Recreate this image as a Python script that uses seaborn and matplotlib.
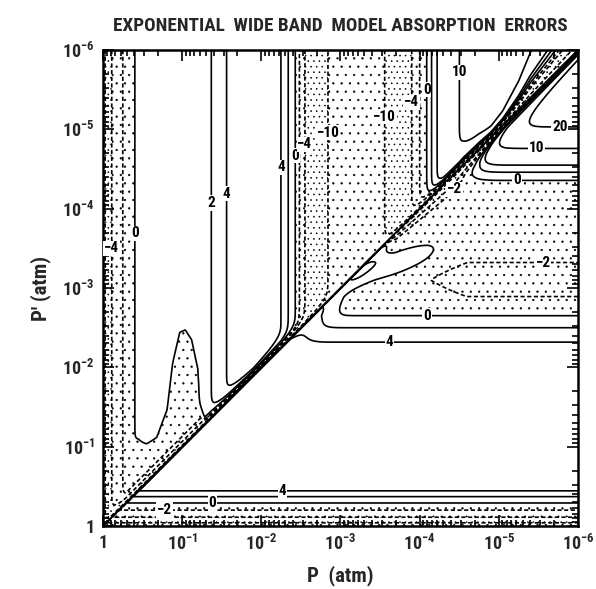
import numpy as np
import matplotlib
matplotlib.use("Agg")
import matplotlib.pyplot as plt
import seaborn as sns
from matplotlib import font_manager
from matplotlib.ticker import LogLocator, NullFormatter

# pressure decades on both axes
decades = [1, 1e-1, 1e-2, 1e-3, 1e-4, 1e-5, 1e-6]
decade_labels = ['1', '10$^{-1}$', '10$^{-2}$', '10$^{-3}$', '10$^{-4}$', '10$^{-5}$', '10$^{-6}$']

# contour levels (% error)
levels = [-10, -4, -2, 0, 2, 4, 10, 20]

# error along the top edge (P' = 1e-6 atm), P given as decades below 1 atm
top_dec = [0.0, 0.025, 0.11, 0.25, 0.40, 0.90, 1.37, 1.56, 1.90, 2.25, 2.34, 2.43, 2.48,
           2.55, 2.84, 3.20, 3.56, 3.90, 4.00, 4.09, 4.15, 4.22, 4.50, 4.90, 5.40, 6.00]
top_err = [-14, -10, -4, -2, 0, 1, 2, 4, 6, 4, 2, 0, -2,
           -4, -10, -13, -10, -4, -2, 0, 2, 4, 10, 12.5, 13, 13]

# error along the right edge (P = 1e-6 atm), P' given as decades below 1 atm
right_dec = [0.0, 0.04, 0.11, 0.20, 0.29, 0.37, 0.44, 1.0, 1.8, 2.32, 2.50, 2.65, 2.89,
             3.10, 3.32, 3.80, 4.20, 4.36, 4.46, 4.55, 4.76, 5.03, 6.0]
right_err = [-14, -10, -4, -2, 0, 2, 4, 6, 6, 4, 2, 0, -2,
             -2.6, -2, -1.4, -0.8, 0, 2, 4, 10, 20, 28]

# error on the line P = P'
diag_err = -14

# width (decades) of the fall toward P = P', above and below the line
trough_dec = [0.0, 4.3, 4.55, 4.75, 4.9, 5.05, 5.25, 5.4, 6.0]
trough_above = [0.04, 0.04, 0.07, 0.07, 0.06, 0.08, 0.16, 0.26, 0.5]
trough_below_dec = [3.5, 3.7, 4.3, 4.7, 5.1, 6.0]
trough_below = [0.0, 0.03, 0.08, 0.10, 0.07, 0.07]

# shallow negative finger above the line near P = 0.1 atm (height in decades)
finger_dec = [0.30, 0.45, 0.55, 0.68, 0.81, 0.88, 0.97, 1.04, 1.12, 1.20, 1.22, 1.30]
finger_height = [0.5, 0.5, 0.42, 0.41, 0.65, 1.19, 1.54, 1.53, 1.34, 0.86, 0.38, 0.0]
finger_err = -1.5

# positive ridge below the line near P = 1e-3 atm
ridge_dec = [2.3, 2.75, 3.5, 3.7]
ridge_err = [0, 2.7, 2.6, 0]

# raised tongue below the line near P = 1e-4 atm
tongue_err = 2.3

# the negative pocket below the line fades out toward larger P
pocket_dec = [4.1, 4.6]
pocket_scale = [0.75, 1.0]

# build the error table on a grid of decades
u = np.linspace(0, 6, 602)
U, V = np.meshgrid(u, u)
D = V - U

above = np.interp(U, top_dec, top_err)
fh = np.maximum(np.interp(U, finger_dec, finger_height), 1e-6)
above = above + np.minimum(0, finger_err - above) * np.exp(-(np.clip(D, 0, None) / fh) ** 4)
w_up = np.interp(U, trough_dec, trough_above)
above = above + (diag_err - above) * np.exp(-np.clip(D, 0, None) / w_up)

below = np.interp(V, right_dec, right_err)
in_pocket = (V > 2.65) & (V < 4.36) & (below < 0)
below = np.where(in_pocket, below * np.interp(U, pocket_dec, pocket_scale), below)
below = below + np.interp(U, ridge_dec, ridge_err) * np.exp(-(D / 0.2) ** 2)
t = (U - 3.66) * 0.93 + (V - 3.29) * 0.37
s = -(U - 3.66) * 0.37 + (V - 3.29) * 0.93
below = below + tongue_err * np.exp(-((t / 0.66) ** 2 + (s / 0.16) ** 2) ** 2)
w_lo = np.maximum(np.interp(U, trough_below_dec, trough_below), 1e-6)
below = below + (diag_err - below) * np.exp(-np.clip(-D, 0, None) / w_lo)

Z = np.where(D >= 0, above, below)
P = 10.0 ** -U
Pp = 10.0 ** -V

# label spots (decades of P, decades of P')
label_u = [0.11, 0.40, 1.37, 1.56, 2.25, 2.43, 2.55, 2.84, 3.56, 3.90, 4.09, 4.50,
           5.77, 5.48, 5.23, 4.45, 5.56, 4.10, 3.62, 2.27, 1.38, 0.78]
label_v = [3.50, 3.69, 4.07, 4.19, 4.52, 4.67, 4.81, 4.96, 5.16, 5.34, 5.50, 5.72,
           5.03, 4.76, 4.36, 4.24, 3.32, 2.68, 2.32, 0.44, 0.29, 0.18]

sns.set_theme(style="ticks")

# a narrow sans face, if one is installed
narrow = ('condensed', 'semi-condensed', 'extra-condensed', 'ultra-condensed')
fonts = font_manager.fontManager.ttflist
names = {f.name for f in fonts}
cond_names = [f.name for f in fonts if f.stretch in narrow or
              (isinstance(f.stretch, (int, float)) and f.stretch < 500)]
family, stretch = 'DejaVu Sans', 'normal'
for cand in ['Liberation Sans Narrow', 'Roboto Condensed', 'Open Sans Condensed', 'Arial Narrow']:
    if cand in names:
        family = cand
        break
else:
    for cand in ['Roboto', 'Open Sans', 'Noto Sans', 'DejaVu Sans', 'Liberation Sans', 'Lato', 'Inter']:
        if cand in cond_names:
            family, stretch = cand, 'condensed'
            break
plt.rcParams['font.family'] = [family, 'DejaVu Sans']
plt.rcParams['font.stretch'] = stretch
plt.rcParams['mathtext.default'] = 'regular'
plt.rcParams['hatch.linewidth'] = 0.4

fig = plt.figure(figsize=(5.96, 5.89), dpi=100)
ax = fig.add_axes([0.1728, 0.107, 0.797, 0.808])

cf = ax.contourf(P, Pp, Z, levels=[-100, -10, -4, -2, 0], colors='none',
                 hatches=['..', '...', '..', '..'])
cf.set_edgecolor('black')
cf.set_linewidth(0)
cs = ax.contour(P, Pp, Z, levels=levels, colors='black', linewidths=1.2,
                negative_linestyles=(0, (2.5, 1.5)))
ax.plot(decades, decades, color='black', linewidth=1.4)

def fmt(val):
    return f'{val:g}'.replace('-', '\u2212')

ax.clabel(cs, fmt=fmt, fontsize=11, inline=False,
          manual=list(zip(10.0 ** -np.array(label_u), 10.0 ** -np.array(label_v))))
for txt in cs.labelTexts:
    txt.set_rotation(0)
    txt.set_fontweight('bold')
    txt.set_bbox(dict(facecolor='white', edgecolor='none', pad=0.6))

ax.set_xscale('log')
ax.set_yscale('log')
ax.set_xlim(1, 1e-6)
ax.set_ylim(1, 1e-6)
ax.set_xticks(decades, decade_labels)
ax.set_yticks(decades, decade_labels)
for axis in (ax.xaxis, ax.yaxis):
    axis.set_minor_locator(LogLocator(base=10, subs=np.arange(2, 10)))
    axis.set_minor_formatter(NullFormatter())
ax.tick_params(which='both', direction='in', top=True, right=True, color='black', width=1.2)
ax.tick_params(which='major', length=8, labelsize=13, pad=6)
ax.tick_params(which='minor', length=4)
for lab in ax.get_xticklabels() + ax.get_yticklabels():
    lab.set_fontweight('bold')
for sp in ax.spines.values():
    sp.set_linewidth(1.8)
    sp.set_color('black')

ax.set_xlabel('P  (atm)', fontsize=15, fontweight='bold', labelpad=8)
ax.set_ylabel('P\u2032 (atm)', fontsize=15, fontweight='bold', labelpad=8)
title = ax.set_title('EXPONENTIAL  WIDE BAND  MODEL ABSORPTION  ERRORS', fontsize=15,
                     fontweight='bold', pad=14)

# keep the title inside the figure width the reference uses (~455 px)
fig.canvas.draw()
w = title.get_window_extent().width
if w > 455:
    title.set_fontsize(15 * 455 / w)

fig.savefig('out.png', dpi=100)
